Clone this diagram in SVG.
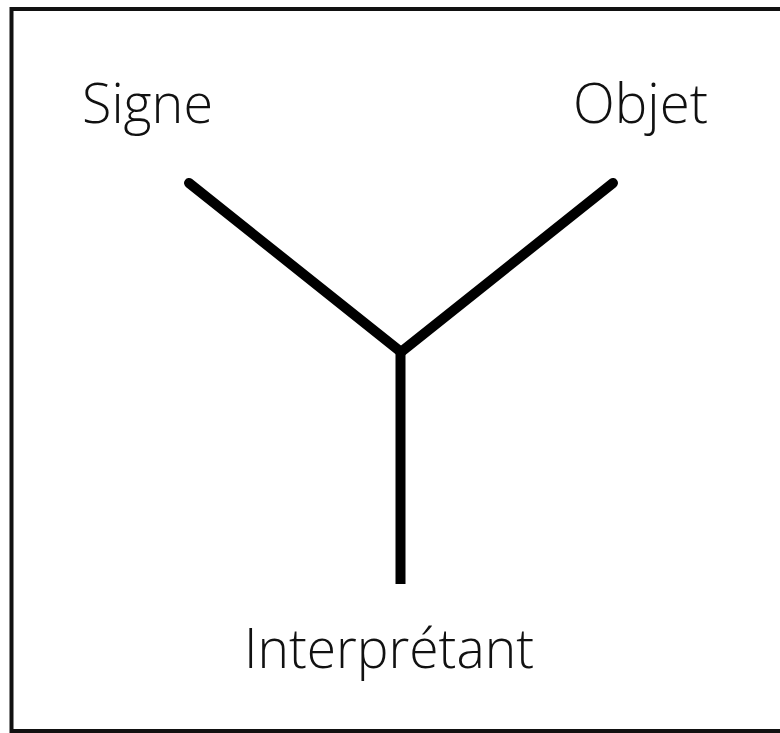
<svg xmlns="http://www.w3.org/2000/svg" width="780" height="733" viewBox="0 0 780 733">
<style>
.lbl{font-family:"Open Sans","Noto Sans","DejaVu Sans",sans-serif;font-size:56px;font-weight:360;fill:#111}
.edge{stroke:#000;stroke-width:10;stroke-linecap:round;fill:none}
</style>
<rect x="0" y="0" width="780" height="733" fill="#fff"/>
<rect x="11.5" y="9" width="790" height="722" fill="none" stroke="#111" stroke-width="4"/>
<g id="connectors">
<line class="edge" x1="189" y1="183" x2="401" y2="352"/>
<line class="edge" x1="613" y1="183" x2="401" y2="352"/>
<line class="edge" x1="400.5" y1="352" x2="400.5" y2="584" style="stroke-linecap:butt"/>
</g>
<g id="signe"><text class="lbl" x="82" y="123" textLength="131" lengthAdjust="spacingAndGlyphs">Signe</text></g>
<g id="objet"><text class="lbl" x="573" y="123" textLength="135" lengthAdjust="spacingAndGlyphs">Objet</text></g>
<g id="interpretant"><text class="lbl" x="244" y="668" textLength="290" lengthAdjust="spacingAndGlyphs">Interprétant</text></g>
</svg>
